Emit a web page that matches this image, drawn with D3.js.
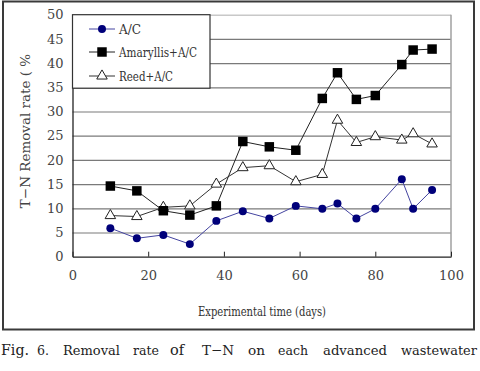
<!DOCTYPE html>
<html><head><meta charset="utf-8">
<script src="https://cdn.jsdelivr.net/npm/d3@7"></script>
<style>body{margin:0;background:#fff}svg{display:block}
text{font-family:"DejaVu Serif",serif}
</style>
</head><body>
<svg id="c" width="480" height="371"></svg>
<script>
const days = [10, 17, 24, 31, 38, 45, 52, 59, 66, 70, 75, 80, 87, 90, 95];
const acValues = [5.9, 3.8, 4.5, 2.6, 7.4, 9.4, 7.9, 10.5, 9.9, 11.0, 7.9, 9.9, 16.0, 9.9, 13.8];
const amaryllisValues = [14.6, 13.6, 9.5, 8.6, 10.5, 23.8, 22.7, 22.0, 32.7, 38.0, 32.5, 33.3, 39.7, 42.7, 42.9];
const reedValues = [8.5, 8.3, 10.2, 10.5, 15.0, 18.4, 18.8, 15.5, 17.0, 28.2, 23.6, 24.8, 24.1, 25.4, 23.3];
const seriesNames = ["A/C", "Amaryllis+A/C", "Reed+A/C"];
const xTicks = [0, 20, 40, 60, 80, 100];
const yTicks = [0, 5, 10, 15, 20, 25, 30, 35, 40, 45, 50];
const xTitle = "Experimental time (days)";
const yTitle = "T\u2212N Removal rate ( %";
const captionWords = ["Fig.", "6.", "Removal", "rate", "of", "T\u2212N", "on", "each", "advanced", "wastewater"];

const svg = d3.select("#c");
const L = 72.5, R = 451, T = 14.7, B = 256.7;
const x = d3.scaleLinear().domain([0, 100]).range([L, R]);
const y = d3.scaleLinear().domain([0, 50]).range([B, T]);

svg.append("rect").attr("x", 3).attr("y", 1.5).attr("width", 471).attr("height", 328)
  .attr("fill", "none").attr("stroke", "#3a3a3a").attr("stroke-width", 2);

const gy = d3.axisLeft(y).tickValues(yTicks.filter(v => v > 0)).tickSize(-(R - L)).tickFormat("");
const gg = svg.append("g").attr("transform", `translate(${L},0)`).call(gy);
gg.select(".domain").remove();
gg.selectAll(".tick line").attr("stroke", d => d === 50 ? "#c8c8c8" : "#7a7a7a").attr("stroke-width", d => d === 50 ? 1.5 : 1.2);
svg.append("line").attr("x1", R).attr("x2", R).attr("y1", T).attr("y2", B).attr("stroke", "#a0a0a0").attr("stroke-width", 1.5);

const ya = d3.axisLeft(y).tickValues(yTicks).tickSize(0).tickPadding(9);
const yg = svg.append("g").attr("transform", `translate(${L},0)`).call(ya);
yg.attr("font-family", null).attr("font-size", null);
yg.select(".domain").attr("stroke", "#222").attr("stroke-width", 1.3);
yg.selectAll("text").style("font-size", "13px").attr("fill", "#444");

const xa = d3.axisBottom(x).tickValues(xTicks).tickSize(0).tickPadding(14);
const xg = svg.append("g").attr("transform", `translate(0,${B})`).call(xa);
xg.attr("font-family", null).attr("font-size", null);
xg.select(".domain").attr("stroke", "#222").attr("stroke-width", 1.3);
xg.selectAll("text").style("font-size", "13px").attr("fill", "#444");
xg.selectAll(".tick").append("line").attr("y1", 0).attr("y2", -5).attr("stroke", "#222");

function fitText(sel, target, base) {
  const w = sel.node().getComputedTextLength();
  if (w > target) sel.style("font-size", (base * target / w).toFixed(2) + "px");
}

svg.append("text").attr("x", 198).attr("y", 316)
  .attr("textLength", 128).attr("lengthAdjust", "spacingAndGlyphs")
  .style("font-size", "13px").attr("fill", "#333").text(xTitle);
svg.append("text").attr("transform", "translate(30,131) rotate(-90)").attr("text-anchor", "middle")
  .style("font-size", "13.5px").attr("fill", "#444").text(yTitle);

const line = d3.line().x(d => x(d[0])).y(d => y(d[1]));
const mk = vals => days.map((d, i) => [d, vals[i]]);
const ac = mk(acValues), am = mk(amaryllisValues), re = mk(reedValues);

svg.append("path").datum(re).attr("d", line).attr("fill", "none").attr("stroke", "#333").attr("stroke-width", 1);
svg.append("path").datum(am).attr("d", line).attr("fill", "none").attr("stroke", "#222").attr("stroke-width", 1);
svg.append("path").datum(ac).attr("d", line).attr("fill", "none").attr("stroke", "#4444a0").attr("stroke-width", 1);

const tri = d3.symbol().type(d3.symbolTriangle).size(48);
const sq = d3.symbol().type(d3.symbolSquare).size(90);
const circ = d3.symbol().type(d3.symbolCircle).size(50);

svg.append("g").selectAll("path").data(re).join("path").attr("d", tri)
  .attr("transform", d => `translate(${x(d[0])},${y(d[1])})`).attr("fill", "#fff").attr("stroke", "#222").attr("stroke-width", 1);
svg.append("g").selectAll("path").data(am).join("path").attr("d", sq)
  .attr("transform", d => `translate(${x(d[0])},${y(d[1])})`).attr("fill", "#000");
svg.append("g").selectAll("path").data(ac).join("path").attr("d", circ)
  .attr("transform", d => `translate(${x(d[0])},${y(d[1])})`).attr("fill", "#00007a");

const lg = svg.append("g");
lg.append("rect").attr("x", L).attr("y", T).attr("width", 137.5).attr("height", 73.5)
  .attr("fill", "#fff").attr("stroke", "#333").attr("stroke-width", 1.2);
const legY = [29, 52, 76];
const legW = [22, 78, 54];
const legSyms = [circ, sq, tri];
const legFill = ["#00007a", "#000", "#fff"];
const legLine = ["#4444a0", "#222", "#333"];
seriesNames.forEach((n, i) => {
  lg.append("line").attr("x1", 89).attr("x2", 115).attr("y1", legY[i]).attr("y2", legY[i]).attr("stroke", legLine[i]);
  lg.append("path").attr("d", legSyms[i]).attr("transform", `translate(102,${legY[i]})`)
    .attr("fill", legFill[i]).attr("stroke", i === 2 ? "#222" : "none");
  const t = lg.append("text").attr("x", 119).attr("y", legY[i] + 4.5).style("font-size", "13px")
    .attr("fill", "#333").text(n);
  if (t.node().getComputedTextLength() > legW[i]) t.attr("textLength", legW[i]).attr("lengthAdjust", "spacingAndGlyphs");
});

const capX = [1, 37, 63, 133, 170, 202, 248, 278, 323, 401];
const capW = [28, 12, 57, 26, 18, 32, 17, 30, 64, 76];
const cap = svg.append("g");
captionWords.forEach((w, i) => {
  const t = cap.append("text").attr("x", capX[i]).attr("y", 355).style("font-size", "14.5px")
    .attr("fill", "#222").text(w);
  fitText(t, capW[i], 14.5);
});
</script>
</body></html>
